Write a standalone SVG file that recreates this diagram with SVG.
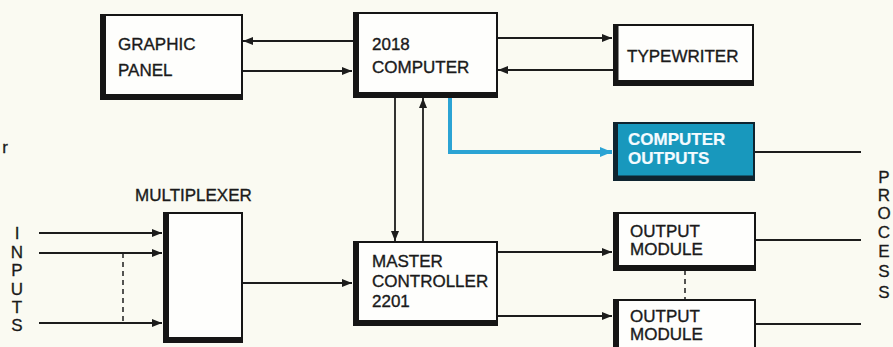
<svg xmlns="http://www.w3.org/2000/svg" width="893" height="347" viewBox="0 0 893 347">
<style>
.box{fill:#fefefc;stroke:#151515;stroke-width:2}
.sh{fill:none;stroke:#151515;stroke-width:5}
.ln{fill:none;stroke:#1c1c1c;stroke-width:1.8}
.dash{fill:none;stroke:#1c1c1c;stroke-width:1.5;stroke-dasharray:5 4}
.t{font-family:"Liberation Sans",Arial,sans-serif;font-size:17px;fill:#1a1a1a;stroke:#1a1a1a;stroke-width:0.35}
.w{fill:#f4fbff;stroke:#f4fbff;font-weight:bold;stroke-width:0.2}
.v{font-family:"Liberation Sans",Arial,sans-serif;font-size:17px;fill:#1a1a1a;stroke:#1a1a1a;stroke-width:0.3;text-anchor:middle}
</style>
<defs>
<marker id="ah" viewBox="0 0 10 8" refX="10" refY="4" markerWidth="10" markerHeight="8" markerUnits="userSpaceOnUse" orient="auto">
<path d="M0,0 L10,4 L0,8 Z" fill="#1c1c1c"/>
</marker>
<marker id="bh" viewBox="0 0 12 10" refX="12" refY="5" markerWidth="12" markerHeight="10" markerUnits="userSpaceOnUse" orient="auto">
<path d="M0,0 L12,5 L0,10 Z" fill="#2ba3d4"/>
</marker>
</defs>
<rect width="893" height="347" fill="#fafaf2"/>

<g id="connectors">
<line class="ln" x1="353" y1="41" x2="243" y2="41" marker-end="url(#ah)"/>
<line class="ln" x1="243" y1="71" x2="352" y2="71" marker-end="url(#ah)"/>
<line class="ln" x1="497" y1="38" x2="612" y2="38" marker-end="url(#ah)"/>
<line class="ln" x1="613" y1="70" x2="498" y2="70" marker-end="url(#ah)"/>
<line class="ln" x1="395" y1="97" x2="395" y2="241" marker-end="url(#ah)"/>
<line class="ln" x1="423" y1="242" x2="423" y2="98" marker-end="url(#ah)"/>
<path d="M450,97 V152 H612" fill="none" stroke="#2ba3d4" stroke-width="4" marker-end="url(#bh)"/>
<line class="ln" x1="39" y1="233" x2="162" y2="233" marker-end="url(#ah)"/>
<line class="ln" x1="39" y1="253" x2="162" y2="253" marker-end="url(#ah)"/>
<line class="ln" x1="39" y1="323" x2="162" y2="323" marker-end="url(#ah)"/>
<line class="dash" x1="123" y1="253" x2="123" y2="323"/>
<line class="ln" x1="243" y1="283" x2="352" y2="283" marker-end="url(#ah)"/>
<line class="ln" x1="497" y1="252" x2="612" y2="252" marker-end="url(#ah)"/>
<line class="ln" x1="497" y1="316" x2="612" y2="316" marker-end="url(#ah)"/>
<line class="dash" x1="685" y1="270" x2="685" y2="300"/>
<line class="ln" x1="754" y1="152" x2="861" y2="152"/>
<line class="ln" x1="755" y1="240" x2="861" y2="240"/>
<line class="ln" x1="755" y1="324" x2="861" y2="324"/>
</g>

<g id="graphic-panel">
<rect class="box" x="101" y="15" width="141" height="84"/>
<path class="sh" d="M103.5,15 V96.5 H242"/>
<text class="t" x="118" y="50">GRAPHIC</text>
<text class="t" x="118" y="76">PANEL</text>
</g>

<g id="computer">
<rect class="box" x="354" y="13" width="143" height="84"/>
<path class="sh" d="M356.5,13 V94.5 H497"/>
<text class="t" x="372" y="50">2018</text>
<text class="t" x="372" y="73">COMPUTER</text>
</g>

<g id="typewriter">
<rect class="box" x="614" y="25" width="139" height="60"/>
<path class="sh" d="M616,25 V82.5 H753"/>
<text class="t" x="627" y="62">TYPEWRITER</text>
</g>

<g id="computer-outputs">
<rect x="614" y="123" width="140" height="57" fill="#1898bd" stroke="#0e2430" stroke-width="2"/>
<path d="M616,123 V177.5 H754" fill="none" stroke="#0e2430" stroke-width="4"/>
<text class="t w" x="628" y="145">COMPUTER</text>
<text class="t w" x="628" y="164">OUTPUTS</text>
</g>

<g id="multiplexer">
<text class="t" x="135" y="201">MULTIPLEXER</text>
<rect class="box" x="164" y="213" width="78" height="129"/>
<path class="sh" d="M166.5,213 V339.5 H242"/>
</g>

<g id="master-controller">
<rect class="box" x="354" y="242" width="143" height="83"/>
<path class="sh" d="M356.5,242 V322.5 H497"/>
<text class="t" x="372" y="267">MASTER</text>
<text class="t" x="372" y="287">CONTROLLER</text>
<text class="t" x="372" y="307">2201</text>
</g>

<g id="output-module-1">
<rect class="box" x="614" y="213" width="141" height="57"/>
<path class="sh" d="M616.5,213 V267.5 H755"/>
<text class="t" x="630" y="237">OUTPUT</text>
<text class="t" x="630" y="255">MODULE</text>
</g>

<g id="output-module-2">
<rect class="box" x="614" y="300" width="141" height="52"/>
<path class="sh" d="M616.5,300 V352"/>
<text class="t" x="630" y="322">OUTPUT</text>
<text class="t" x="630" y="340">MODULE</text>
</g>

<g id="inputs-label">
<text class="v" x="17" y="239">I</text>
<text class="v" x="17" y="258">N</text>
<text class="v" x="17" y="276">P</text>
<text class="v" x="17" y="295">U</text>
<text class="v" x="17" y="313">T</text>
<text class="v" x="17" y="331">S</text>
</g>

<g id="process-label">
<text class="v" x="884" y="183">P</text>
<text class="v" x="884" y="201">R</text>
<text class="v" x="884" y="219">O</text>
<text class="v" x="884" y="238">C</text>
<text class="v" x="884" y="257">E</text>
<text class="v" x="884" y="277">S</text>
<text class="v" x="884" y="298">S</text>
</g>

<text class="v" x="5" y="153">r</text>
</svg>
